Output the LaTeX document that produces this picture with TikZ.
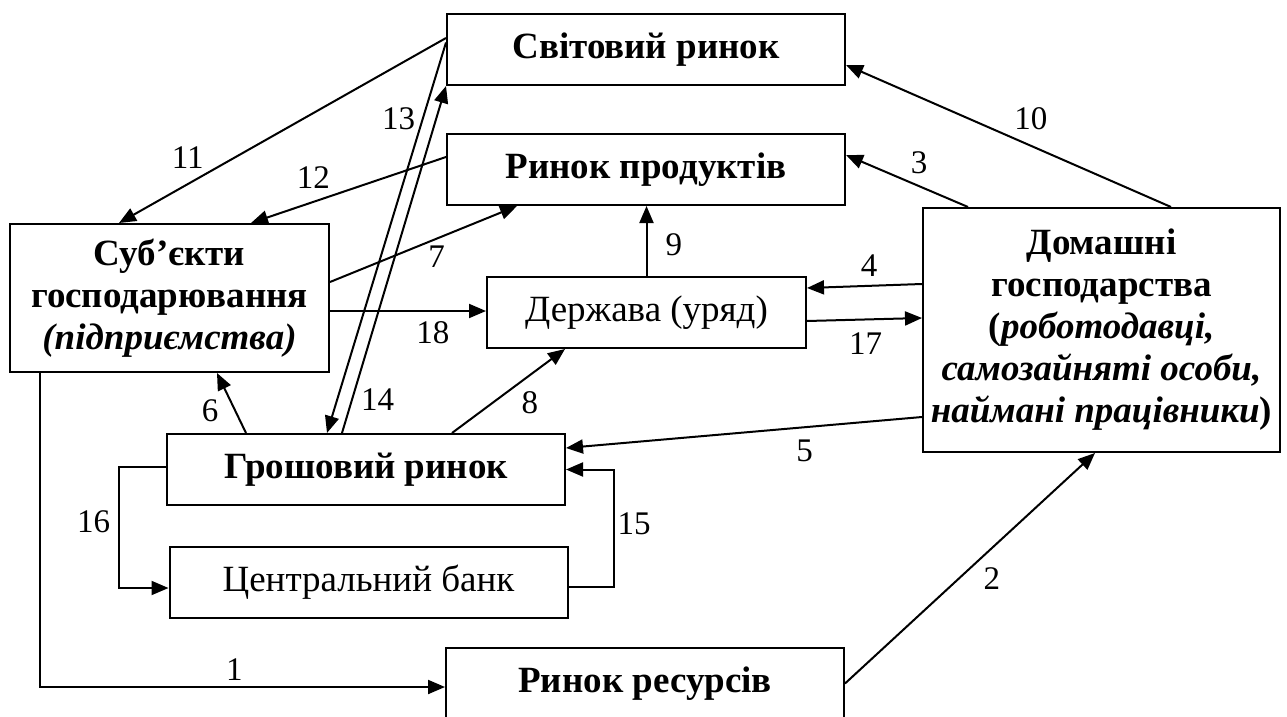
\documentclass[tikz,border=0pt]{standalone}
\usepackage{fontspec}
\setmainfont{Liberation Serif}
\usetikzlibrary{arrows.meta}
\tikzstyle{box}=[draw=black,line width=2pt,minimum width=398pt,minimum height=71pt,inner sep=0pt,align=center,font=\bfseries\fontsize{37}{42}\selectfont]
\tikzstyle{plain}=[font=\fontsize{37}{42}\selectfont]
\tikzstyle{lbl}=[font=\fontsize{33}{38}\selectfont,inner sep=2pt]
\tikzstyle{flow}=[line width=2pt,-{Triangle[length=17pt,width=14pt]}]

\begin{document}
\begin{tikzpicture}[x=1pt,y=-1pt]
				\useasboundingbox (0,0) rectangle (1287,717);
				\node[box] (svit) at (646,49.5) {Світовий ринок};
				\node[box] (prod) at (646,169.5) {Ринок продуктів};
				\node[box,minimum width=319pt,minimum height=148pt] (subj) at (169.5,298)
					{Суб’єкти\\господарювання\\\textit{(підприємства)}};
				\node[box,plain,minimum width=319pt] (derzh) at (646.5,312.5) {Держава (уряд)};
				\node[box,minimum width=357pt,minimum height=244pt] (dom) at (1101.5,330)
					{Домашні\\господарства\\(\textit{роботодавці,}\\\textit{самозайняті особи,}\\\textit{наймані працівники})};
				\node[box] (grosh) at (366,469.5) {Грошовий ринок};
				\node[box,plain] (cb) at (368.5,582.5) {Центральний банк};
				\node[box] (res) at (645,683.5) {Ринок ресурсів};

				\draw[flow] ([xshift=31pt]subj.south west) |- node[lbl,pos=.74,above=4pt] {1} ([yshift=-3.5pt]res.west);
				\draw[flow] (res.east) -- node[lbl,pos=.53,below right=3pt] {2} ([xshift=173pt]dom.south west);
				\draw[flow] ([xshift=46pt]dom.north west) -- node[lbl,pos=.4,above=9pt] {3} ([yshift=14.5pt]prod.east);
				\draw[flow] ([yshift=46pt]dom.west) -- node[lbl,pos=.46,above=6pt] {4} ([yshift=24.5pt]derzh.east);
				\draw[flow] ([yshift=-87pt]dom.west) -- node[lbl,pos=.33,below=10pt] {5} ([yshift=21.5pt]grosh.east);
				\draw[flow] ([xshift=80pt]grosh.north west) -- node[lbl,pos=.37,left=14pt] {6} ([xshift=208pt]subj.south west);
				\draw[flow] ([yshift=16pt]subj.east) -- node[lbl,pos=.57,below=4pt] {7} ([xshift=71pt]prod.south west);
				\draw[flow] ([xshift=286pt]grosh.north west) -- node[lbl,pos=.36,right=26pt] {8} ([xshift=79pt]derzh.south west);
				\draw[flow] (derzh.north) -- node[lbl,pos=.44,right=16pt] {9} (derzh.north |- prod.south);
				\draw[flow] ([xshift=249pt]dom.north west) -- node[lbl,pos=.431,above=13pt] {10} ([yshift=-15.5pt]svit.east);
				\draw[flow] ([yshift=11.5pt]svit.west) -- node[lbl,pos=.79,above=13pt] {11} ([xshift=110pt]subj.north west);
				\draw[flow] ([yshift=12.5pt]prod.west) -- node[lbl,pos=.68,above=10pt] {12} ([xshift=242pt]subj.north west);
				\draw[flow] ([xshift=176pt]grosh.north west) -- node[lbl,pos=.905,left=18pt] {13} (svit.south west);
				\draw[flow] ([yshift=7pt]svit.west) -- node[lbl,pos=.914,right=21pt] {14} ([xshift=161pt]grosh.north west);
				\draw[flow] ([yshift=-4.5pt]cb.east) -- ++(45,0) |- node[lbl,pos=.27,right=1pt] {15} (grosh.east);
				\draw[flow] ([yshift=2.5pt]grosh.west) -- ++(-47,0) |- node[lbl,pos=.225,left=6pt] {16} ([yshift=-5.5pt]cb.west);
				\draw[flow] ([yshift=-8.5pt]derzh.east) -- node[lbl,pos=.51,below=10pt] {17} ([yshift=12pt]dom.west);
				\draw[flow] ([yshift=-13pt]subj.east) -- node[lbl,pos=.66,below=8pt] {18} ([yshift=1.5pt]derzh.west);
\end{tikzpicture}
\end{document}
